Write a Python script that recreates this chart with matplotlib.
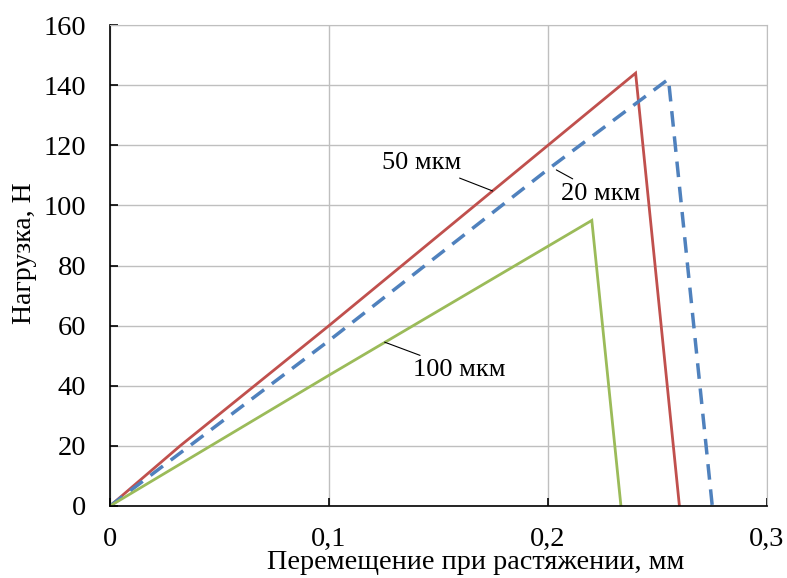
import matplotlib
matplotlib.use('Agg')
import matplotlib.pyplot as plt
from matplotlib.ticker import FuncFormatter

plt.rcParams['font.family'] = ['Liberation Serif', 'DejaVu Serif']

# данные (смещение, мм / нагрузка, Н)
x_50 = [0, 0.032, 0.1, 0.24, 0.26]
y_50 = [0, 20, 60, 144, 0]

x_20 = [0, 0.1, 0.2, 0.255, 0.275]
y_20 = [0, 55, 112, 142, 0]

x_100 = [0, 0.1, 0.22, 0.2333]
y_100 = [0, 43.5, 95, 0]

x_ticks = [0, 0.1, 0.2, 0.3]
y_ticks = [0, 20, 40, 60, 80, 100, 120, 140, 160]

fig = plt.figure(figsize=(7.87, 5.78), dpi=100)
ax = fig.add_axes([0.1398, 0.1246, 0.8348, 0.8321])

ax.plot(x_50, y_50, color='#C0504D', linewidth=2.0, solid_joinstyle='miter')
ax.plot(x_20, y_20, color='#4F81BD', linewidth=2.5, linestyle=(0, (4.5, 2.8)))
ax.plot(x_100, y_100, color='#9BBB59', linewidth=2.0, solid_joinstyle='miter')

ax.set_xlim(0, 0.3)
ax.set_ylim(0, 160)
ax.set_xticks(x_ticks)
ax.set_yticks(y_ticks)
ax.xaxis.set_major_formatter(FuncFormatter(lambda v, p: ('%g' % round(v, 3)).replace('.', ',')))

ax.grid(True, color='#BFBFBF', linewidth=1.0)
ax.set_axisbelow(True)
for s in ['top', 'right']:
    ax.spines[s].set_color('#BFBFBF')
for s in ['left', 'bottom']:
    ax.spines[s].set_color('black')
    ax.spines[s].set_linewidth(1.2)

ax.tick_params(axis='both', direction='in', length=6, width=1.2, labelsize=20.5)
ax.tick_params(axis='y', pad=17)
ax.tick_params(axis='x', pad=15)

ax.set_xlabel('Перемещение при растяжении, мм', fontsize=20.3)
ax.xaxis.set_label_coords(0.556, -0.118)
ax.xaxis.label.set_va('center')
ax.set_ylabel('Нагрузка, Н', fontsize=20)
ax.yaxis.set_label_coords(-0.13, 0.526)
ax.yaxis.label.set_va('center')

arrow = dict(arrowstyle='-', color='black', lw=0.8, shrinkA=2, shrinkB=0)
ax.annotate('50 мкм', xy=(0.1747, 104.8), xytext=(0.1423, 114),
            fontsize=19, ha='center', va='center', arrowprops=arrow)
ax.annotate('20 мкм', xy=(0.2038, 111.8), xytext=(0.2239, 103.8),
            fontsize=19, ha='center', va='center', arrowprops=arrow)
ax.annotate('100 мкм', xy=(0.1254, 54.5), xytext=(0.1596, 45.2),
            fontsize=19, ha='center', va='center', arrowprops=arrow)

fig.savefig('out.png', dpi=100)
